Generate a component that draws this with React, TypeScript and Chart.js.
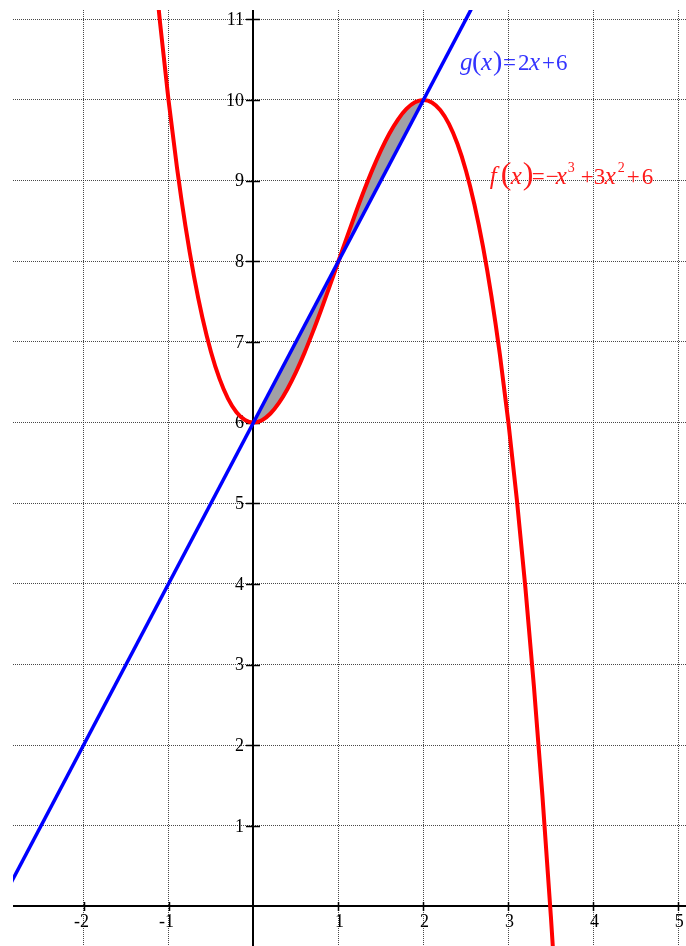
import React, { useEffect, useRef } from "react";
import { Chart, registerables } from "chart.js";

Chart.register(...registerables);

// Axis ranges
const X_MIN = -2.83;
const X_MAX = 5.09;
const Y_MIN = -0.49;
const Y_MAX = 11.115;

// Tick labels
const xTickLabels = [-2, -1, 1, 2, 3, 4, 5];
const yTickLabels = [1, 2, 3, 4, 5, 6, 7, 8, 9, 10, 11];

// f(x) = -x^3 + 3x^2 + 6
const fX = [
  -1.2, -1.1, -1.0, -0.9, -0.8, -0.7, -0.6, -0.5, -0.4, -0.3, -0.2, -0.1, 0,
  0.1, 0.2, 0.3, 0.4, 0.5, 0.6, 0.7, 0.8, 0.9, 1.0, 1.1, 1.2, 1.3, 1.4, 1.5,
  1.6, 1.7, 1.8, 1.9, 2.0, 2.1, 2.2, 2.3, 2.4, 2.5, 2.6, 2.7, 2.8, 2.9, 3.0,
  3.1, 3.2, 3.3, 3.4, 3.5, 3.6,
];
const fY = [
  12.048, 10.961, 10, 9.159, 8.432, 7.813, 7.296, 6.875, 6.544, 6.297, 6.128,
  6.031, 6, 6.029, 6.112, 6.243, 6.416, 6.625, 6.864, 7.127, 7.408, 7.701, 8,
  8.299, 8.592, 8.873, 9.136, 9.375, 9.584, 9.757, 9.888, 9.971, 10, 9.969,
  9.872, 9.703, 9.456, 9.125, 8.704, 8.187, 7.568, 6.841, 6, 5.039, 3.952,
  2.733, 1.376, -0.125, -1.776,
];

// g(x) = 2x + 6 (blue line end points)
const gX = [-3, 3];
const gY = [0, 12];

// Shaded region between the curves, 0 <= x <= 2
const shadeX = [0, 0.1, 0.2, 0.3, 0.4, 0.5, 0.6, 0.7, 0.8, 0.9, 1.0, 1.1, 1.2, 1.3, 1.4, 1.5, 1.6, 1.7, 1.8, 1.9, 2.0];
const shadeF = [6, 6.029, 6.112, 6.243, 6.416, 6.625, 6.864, 7.127, 7.408, 7.701, 8, 8.299, 8.592, 8.873, 9.136, 9.375, 9.584, 9.757, 9.888, 9.971, 10];
const shadeG = [6, 6.2, 6.4, 6.6, 6.8, 7, 7.2, 7.4, 7.6, 7.8, 8, 8.2, 8.4, 8.6, 8.8, 9, 9.2, 9.4, 9.6, 9.8, 10];

const pts = (xs: number[], ys: number[]) => xs.map((x, i) => ({ x, y: ys[i] }));

const SERIF = '"Liberation Serif", "Times New Roman", serif';

type Seg = { t: string; italic?: boolean; size: number; dx: number; dy?: number };

const gLabel: Seg[] = [
  { t: "g", italic: true, size: 25, dx: 0 },
  { t: "(", size: 28, dx: 12 },
  { t: "x", italic: true, size: 25, dx: 21 },
  { t: ")", size: 28, dx: 33 },
  { t: "=", size: 23, dx: 43 },
  { t: "2", size: 23, dx: 58 },
  { t: "x", italic: true, size: 25, dx: 69 },
  { t: "+", size: 23, dx: 82 },
  { t: "6", size: 23, dx: 96 },
];

const fLabel: Seg[] = [
  { t: "f", italic: true, size: 25, dx: 3 },
  { t: "(", size: 32, dx: 14 },
  { t: "x", italic: true, size: 25, dx: 24 },
  { t: ")", size: 32, dx: 36 },
  { t: "=", size: 23, dx: 45 },
  { t: "\u2212", size: 23, dx: 59 },
  { t: "x", italic: true, size: 25, dx: 69 },
  { t: "3", size: 14, dx: 81, dy: -12 },
  { t: "+", size: 23, dx: 94 },
  { t: "3", size: 23, dx: 107 },
  { t: "x", italic: true, size: 25, dx: 118 },
  { t: "2", size: 14, dx: 131, dy: -12 },
  { t: "+", size: 23, dx: 140 },
  { t: "6", size: 23, dx: 155 },
];

function drawRich(ctx: CanvasRenderingContext2D, segs: Seg[], x: number, y: number, color: string) {
  ctx.save();
  ctx.fillStyle = color;
  ctx.textBaseline = "alphabetic";
  ctx.textAlign = "left";
  for (const s of segs) {
    ctx.font = `${s.italic ? "italic " : ""}${s.size}px ${SERIF}`;
    ctx.fillText(s.t, x + s.dx, y + (s.dy || 0));
  }
  ctx.restore();
}

const axesPlugin = {
  id: "axesPlugin",
  beforeDatasetsDraw(chart: any) {
    const { ctx, chartArea, scales } = chart;
    const xs = scales.x;
    const ys = scales.y;
    const x0 = Math.round(xs.getPixelForValue(0));
    const y0 = Math.round(ys.getPixelForValue(0));
    ctx.save();
    ctx.strokeStyle = "#000";
    ctx.lineWidth = 2;
    ctx.beginPath();
    ctx.moveTo(x0, chartArea.top);
    ctx.lineTo(x0, chartArea.bottom);
    ctx.moveTo(chartArea.left, y0);
    ctx.lineTo(chartArea.right, y0);
    ctx.stroke();

    ctx.lineWidth = 1.5;
    ctx.beginPath();
    for (const v of xTickLabels) {
      const px = Math.round(xs.getPixelForValue(v)) + 0.5;
      ctx.moveTo(px, y0 - 4);
      ctx.lineTo(px, y0 + 5);
    }
    for (const v of yTickLabels) {
      const py = Math.round(ys.getPixelForValue(v)) + 0.5;
      ctx.moveTo(x0 - 7, py);
      ctx.lineTo(x0 + 7, py);
    }
    ctx.stroke();

    ctx.fillStyle = "#000";
    ctx.font = `18px ${SERIF}`;
    ctx.textBaseline = "middle";
    ctx.textAlign = "right";
    for (const v of yTickLabels) {
      ctx.fillText(String(v), x0 - 9, ys.getPixelForValue(v) + 1);
    }
    ctx.textBaseline = "top";
    for (const v of xTickLabels) {
      const s = String(v);
      const digits = s.replace("-", "");
      const w = ctx.measureText(digits).width;
      ctx.fillText(s, xs.getPixelForValue(v) + w / 2 + 1, y0 + 7);
    }
    ctx.restore();
  },
  afterDatasetsDraw(chart: any) {
    const { ctx, scales } = chart;
    const xs = scales.x;
    const ys = scales.y;
    drawRich(ctx, gLabel, xs.getPixelForValue(2.43), ys.getPixelForValue(10.365), "#3434ff");
    drawRich(ctx, fLabel, xs.getPixelForValue(2.746), ys.getPixelForValue(8.96), "#ff1a1a");
  },
};

export default function App() {
  const ref = useRef<HTMLCanvasElement | null>(null);
  useEffect(() => {
    if (!ref.current) return;
    const chart = new Chart(ref.current, {
      type: "scatter",
      data: {
        datasets: [
          {
            label: "g",
            data: pts(gX, gY),
            showLine: true,
            borderColor: "#0000ff",
            borderWidth: 3.5,
            pointRadius: 0,
            fill: false,
            order: 0,
          },
          {
            label: "f",
            data: pts(fX, fY),
            showLine: true,
            borderColor: "#ff0000",
            borderWidth: 4,
            pointRadius: 0,
            cubicInterpolationMode: "monotone",
            fill: false,
            order: 1,
          },
          {
            label: "shadeF",
            data: pts(shadeX, shadeF),
            showLine: true,
            borderColor: "rgba(0,0,0,0)",
            borderWidth: 0,
            pointRadius: 0,
            cubicInterpolationMode: "monotone",
            fill: false,
            order: 2,
          },
          {
            label: "shadeG",
            data: pts(shadeX, shadeG),
            showLine: true,
            borderColor: "rgba(0,0,0,0)",
            backgroundColor: "rgb(160,160,166)",
            borderWidth: 0,
            pointRadius: 0,
            fill: "-1",
            order: 3,
          },
        ],
      } as any,
      options: {
        animation: false,
        responsive: false,
        maintainAspectRatio: false,
        layout: { padding: { left: 13, top: 10, right: 0, bottom: 0 } },
        plugins: {
          legend: { display: false },
          tooltip: { enabled: false },
          filler: { drawTime: "beforeDatasetsDraw", propagate: false },
        } as any,
        scales: {
          x: {
            type: "linear",
            min: X_MIN,
            max: X_MAX,
            ticks: { display: false, stepSize: 1, includeBounds: false },
            grid: { color: "rgba(40,40,40,0.85)", lineWidth: 1, drawTicks: false },
            border: { display: false, dash: [1, 1] },
          },
          y: {
            type: "linear",
            min: Y_MIN,
            max: Y_MAX,
            ticks: { display: false, stepSize: 1, includeBounds: false },
            grid: { color: "rgba(40,40,40,0.85)", lineWidth: 1, drawTicks: false },
            border: { display: false, dash: [1, 1] },
          },
        },
      } as any,
      plugins: [axesPlugin],
    });
    return () => chart.destroy();
  }, []);
  return (
    <div style={{ position: "absolute", left: 0, top: 0, width: 686, height: 946, background: "#fff" }}>
      <canvas ref={ref} width={686} height={946} style={{ display: "block" }} />
    </div>
  );
}
